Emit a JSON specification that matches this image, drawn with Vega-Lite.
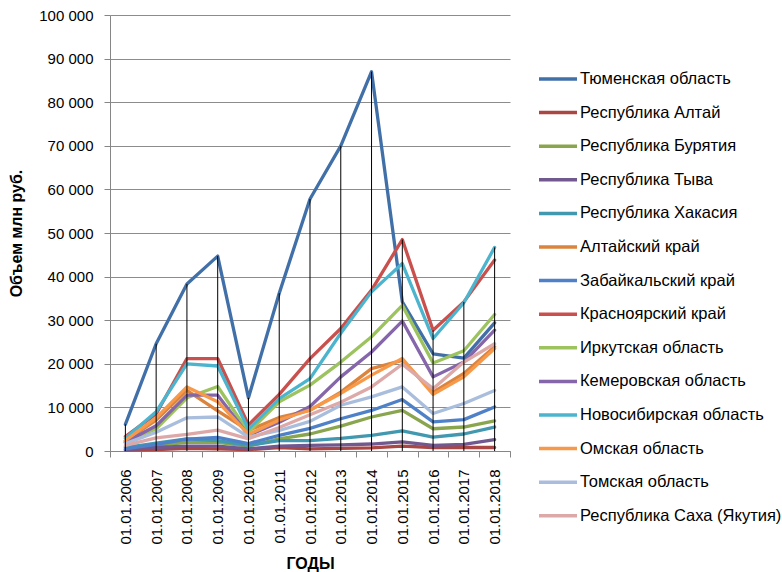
{
  "$schema": "https://vega.github.io/schema/vega-lite/v6.json",
  "autosize": {"type": "none"},
  "width": 400,
  "height": 436,
  "padding": {"left": 110, "top": 15, "right": 272, "bottom": 121},
  "background": "white",
  "config": {
    "locale": {"number": {"decimal": ",", "thousands": " ", "grouping": [3], "currency": ["", ""]}},
    "view": {"stroke": null},
    "font": "Liberation Sans",
    "axis": {"labelFont": "Liberation Sans", "titleFont": "Liberation Sans", "labelColor": "#000000", "titleColor": "#000000"}
  },
  "data": {"values": [
    {"d":"01.01.2006","r":"Тюменская область","v":6100},{"d":"01.01.2007","r":"Тюменская область","v":24600},{"d":"01.01.2008","r":"Тюменская область","v":38300},{"d":"01.01.2009","r":"Тюменская область","v":44700},{"d":"01.01.2010","r":"Тюменская область","v":12200},{"d":"01.01.2011","r":"Тюменская область","v":36200},{"d":"01.01.2012","r":"Тюменская область","v":57800},{"d":"01.01.2013","r":"Тюменская область","v":70000},{"d":"01.01.2014","r":"Тюменская область","v":87000},{"d":"01.01.2015","r":"Тюменская область","v":34200},{"d":"01.01.2016","r":"Тюменская область","v":22300},{"d":"01.01.2017","r":"Тюменская область","v":21300},{"d":"01.01.2018","r":"Тюменская область","v":29400},
    {"d":"01.01.2006","r":"Республика Алтай","v":200},{"d":"01.01.2007","r":"Республика Алтай","v":300},{"d":"01.01.2008","r":"Республика Алтай","v":600},{"d":"01.01.2009","r":"Республика Алтай","v":500},{"d":"01.01.2010","r":"Республика Алтай","v":300},{"d":"01.01.2011","r":"Республика Алтай","v":800},{"d":"01.01.2012","r":"Республика Алтай","v":500},{"d":"01.01.2013","r":"Республика Алтай","v":600},{"d":"01.01.2014","r":"Республика Алтай","v":700},{"d":"01.01.2015","r":"Республика Алтай","v":1100},{"d":"01.01.2016","r":"Республика Алтай","v":800},{"d":"01.01.2017","r":"Республика Алтай","v":800},{"d":"01.01.2018","r":"Республика Алтай","v":800},
    {"d":"01.01.2006","r":"Республика Бурятия","v":1000},{"d":"01.01.2007","r":"Республика Бурятия","v":1300},{"d":"01.01.2008","r":"Республика Бурятия","v":2000},{"d":"01.01.2009","r":"Республика Бурятия","v":2000},{"d":"01.01.2010","r":"Республика Бурятия","v":1100},{"d":"01.01.2011","r":"Республика Бурятия","v":2800},{"d":"01.01.2012","r":"Республика Бурятия","v":3900},{"d":"01.01.2013","r":"Республика Бурятия","v":5700},{"d":"01.01.2014","r":"Республика Бурятия","v":7800},{"d":"01.01.2015","r":"Республика Бурятия","v":9300},{"d":"01.01.2016","r":"Республика Бурятия","v":5100},{"d":"01.01.2017","r":"Республика Бурятия","v":5500},{"d":"01.01.2018","r":"Республика Бурятия","v":6900},
    {"d":"01.01.2006","r":"Республика Тыва","v":300},{"d":"01.01.2007","r":"Республика Тыва","v":800},{"d":"01.01.2008","r":"Республика Тыва","v":1100},{"d":"01.01.2009","r":"Республика Тыва","v":1100},{"d":"01.01.2010","r":"Республика Тыва","v":500},{"d":"01.01.2011","r":"Республика Тыва","v":1100},{"d":"01.01.2012","r":"Республика Тыва","v":1300},{"d":"01.01.2013","r":"Республика Тыва","v":1400},{"d":"01.01.2014","r":"Республика Тыва","v":1600},{"d":"01.01.2015","r":"Республика Тыва","v":2100},{"d":"01.01.2016","r":"Республика Тыва","v":1300},{"d":"01.01.2017","r":"Республика Тыва","v":1500},{"d":"01.01.2018","r":"Республика Тыва","v":2600},
    {"d":"01.01.2006","r":"Республика Хакасия","v":800},{"d":"01.01.2007","r":"Республика Хакасия","v":1800},{"d":"01.01.2008","r":"Республика Хакасия","v":2800},{"d":"01.01.2009","r":"Республика Хакасия","v":2400},{"d":"01.01.2010","r":"Республика Хакасия","v":1300},{"d":"01.01.2011","r":"Республика Хакасия","v":2400},{"d":"01.01.2012","r":"Республика Хакасия","v":2400},{"d":"01.01.2013","r":"Республика Хакасия","v":2900},{"d":"01.01.2014","r":"Республика Хакасия","v":3600},{"d":"01.01.2015","r":"Республика Хакасия","v":4600},{"d":"01.01.2016","r":"Республика Хакасия","v":3200},{"d":"01.01.2017","r":"Республика Хакасия","v":3900},{"d":"01.01.2018","r":"Республика Хакасия","v":5500},
    {"d":"01.01.2006","r":"Алтайский край","v":2300},{"d":"01.01.2007","r":"Алтайский край","v":7100},{"d":"01.01.2008","r":"Алтайский край","v":13900},{"d":"01.01.2009","r":"Алтайский край","v":9200},{"d":"01.01.2010","r":"Алтайский край","v":4700},{"d":"01.01.2011","r":"Алтайский край","v":7700},{"d":"01.01.2012","r":"Алтайский край","v":9300},{"d":"01.01.2013","r":"Алтайский край","v":13500},{"d":"01.01.2014","r":"Алтайский край","v":18900},{"d":"01.01.2015","r":"Алтайский край","v":20800},{"d":"01.01.2016","r":"Алтайский край","v":13500},{"d":"01.01.2017","r":"Алтайский край","v":17800},{"d":"01.01.2018","r":"Алтайский край","v":23900},
    {"d":"01.01.2006","r":"Забайкальский край","v":500},{"d":"01.01.2007","r":"Забайкальский край","v":1500},{"d":"01.01.2008","r":"Забайкальский край","v":2700},{"d":"01.01.2009","r":"Забайкальский край","v":3100},{"d":"01.01.2010","r":"Забайкальский край","v":1700},{"d":"01.01.2011","r":"Забайкальский край","v":3600},{"d":"01.01.2012","r":"Забайкальский край","v":5200},{"d":"01.01.2013","r":"Забайкальский край","v":7400},{"d":"01.01.2014","r":"Забайкальский край","v":9300},{"d":"01.01.2015","r":"Забайкальский край","v":11800},{"d":"01.01.2016","r":"Забайкальский край","v":6700},{"d":"01.01.2017","r":"Забайкальский край","v":7200},{"d":"01.01.2018","r":"Забайкальский край","v":10100},
    {"d":"01.01.2006","r":"Красноярский край","v":3300},{"d":"01.01.2007","r":"Красноярский край","v":8500},{"d":"01.01.2008","r":"Красноярский край","v":21200},{"d":"01.01.2009","r":"Красноярский край","v":21200},{"d":"01.01.2010","r":"Красноярский край","v":6000},{"d":"01.01.2011","r":"Красноярский край","v":13000},{"d":"01.01.2012","r":"Красноярский край","v":21200},{"d":"01.01.2013","r":"Красноярский край","v":28100},{"d":"01.01.2014","r":"Красноярский край","v":36900},{"d":"01.01.2015","r":"Красноярский край","v":48500},{"d":"01.01.2016","r":"Красноярский край","v":27700},{"d":"01.01.2017","r":"Красноярский край","v":34200},{"d":"01.01.2018","r":"Красноярский край","v":43800},
    {"d":"01.01.2006","r":"Иркутская область","v":2000},{"d":"01.01.2007","r":"Иркутская область","v":5100},{"d":"01.01.2008","r":"Иркутская область","v":12200},{"d":"01.01.2009","r":"Иркутская область","v":14800},{"d":"01.01.2010","r":"Иркутская область","v":4300},{"d":"01.01.2011","r":"Иркутская область","v":11300},{"d":"01.01.2012","r":"Иркутская область","v":15100},{"d":"01.01.2013","r":"Иркутская область","v":20400},{"d":"01.01.2014","r":"Иркутская область","v":26200},{"d":"01.01.2015","r":"Иркутская область","v":33400},{"d":"01.01.2016","r":"Иркутская область","v":20200},{"d":"01.01.2017","r":"Иркутская область","v":23000},{"d":"01.01.2018","r":"Иркутская область","v":31300},
    {"d":"01.01.2006","r":"Кемеровская область","v":2000},{"d":"01.01.2007","r":"Кемеровская область","v":5800},{"d":"01.01.2008","r":"Кемеровская область","v":12800},{"d":"01.01.2009","r":"Кемеровская область","v":12800},{"d":"01.01.2010","r":"Кемеровская область","v":3600},{"d":"01.01.2011","r":"Кемеровская область","v":6600},{"d":"01.01.2012","r":"Кемеровская область","v":10200},{"d":"01.01.2013","r":"Кемеровская область","v":17000},{"d":"01.01.2014","r":"Кемеровская область","v":22700},{"d":"01.01.2015","r":"Кемеровская область","v":29800},{"d":"01.01.2016","r":"Кемеровская область","v":17000},{"d":"01.01.2017","r":"Кемеровская область","v":20400},{"d":"01.01.2018","r":"Кемеровская область","v":27700},
    {"d":"01.01.2006","r":"Новосибирская область","v":2900},{"d":"01.01.2007","r":"Новосибирская область","v":9000},{"d":"01.01.2008","r":"Новосибирская область","v":20000},{"d":"01.01.2009","r":"Новосибирская область","v":19500},{"d":"01.01.2010","r":"Новосибирская область","v":5000},{"d":"01.01.2011","r":"Новосибирская область","v":12000},{"d":"01.01.2012","r":"Новосибирская область","v":16600},{"d":"01.01.2013","r":"Новосибирская область","v":27000},{"d":"01.01.2014","r":"Новосибирская область","v":36500},{"d":"01.01.2015","r":"Новосибирская область","v":43000},{"d":"01.01.2016","r":"Новосибирская область","v":25800},{"d":"01.01.2017","r":"Новосибирская область","v":34000},{"d":"01.01.2018","r":"Новосибирская область","v":46700},
    {"d":"01.01.2006","r":"Омская область","v":2400},{"d":"01.01.2007","r":"Омская область","v":7600},{"d":"01.01.2008","r":"Омская область","v":14700},{"d":"01.01.2009","r":"Омская область","v":11300},{"d":"01.01.2010","r":"Омская область","v":3800},{"d":"01.01.2011","r":"Омская область","v":7100},{"d":"01.01.2012","r":"Омская область","v":9400},{"d":"01.01.2013","r":"Омская область","v":13200},{"d":"01.01.2014","r":"Омская область","v":17400},{"d":"01.01.2015","r":"Омская область","v":21200},{"d":"01.01.2016","r":"Омская область","v":13000},{"d":"01.01.2017","r":"Омская область","v":17000},{"d":"01.01.2018","r":"Омская область","v":23500},
    {"d":"01.01.2006","r":"Томская область","v":1700},{"d":"01.01.2007","r":"Томская область","v":4300},{"d":"01.01.2008","r":"Томская область","v":7600},{"d":"01.01.2009","r":"Томская область","v":7800},{"d":"01.01.2010","r":"Томская область","v":3200},{"d":"01.01.2011","r":"Томская область","v":4700},{"d":"01.01.2012","r":"Томская область","v":6800},{"d":"01.01.2013","r":"Томская область","v":10500},{"d":"01.01.2014","r":"Томская область","v":12400},{"d":"01.01.2015","r":"Томская область","v":14700},{"d":"01.01.2016","r":"Томская область","v":8600},{"d":"01.01.2017","r":"Томская область","v":10900},{"d":"01.01.2018","r":"Томская область","v":13900},
    {"d":"01.01.2006","r":"Республика Саха (Якутия)","v":1300},{"d":"01.01.2007","r":"Республика Саха (Якутия)","v":3000},{"d":"01.01.2008","r":"Республика Саха (Якутия)","v":3800},{"d":"01.01.2009","r":"Республика Саха (Якутия)","v":4800},{"d":"01.01.2010","r":"Республика Саха (Якутия)","v":2800},{"d":"01.01.2011","r":"Республика Саха (Якутия)","v":5400},{"d":"01.01.2012","r":"Республика Саха (Якутия)","v":8300},{"d":"01.01.2013","r":"Республика Саха (Якутия)","v":11200},{"d":"01.01.2014","r":"Республика Саха (Якутия)","v":14700},{"d":"01.01.2015","r":"Республика Саха (Якутия)","v":19900},{"d":"01.01.2016","r":"Республика Саха (Якутия)","v":14300},{"d":"01.01.2017","r":"Республика Саха (Якутия)","v":20400},{"d":"01.01.2018","r":"Республика Саха (Якутия)","v":24600}
  ]},
  "encoding": {
    "x": {
      "field": "d", "type": "ordinal", "sort": null,
      "scale": {"type": "band", "paddingInner": 0, "paddingOuter": 0},
      "bandPosition": 0.5,
      "axis": {
        "title": "ГОДЫ", "titleFontSize": 16, "titleFontWeight": "bold", "titlePadding": 11,
        "labelAngle": -90, "labelFontSize": 15, "labelPadding": 12,
        "tickBand": "extent", "tickSize": 6, "tickColor": "#868686", "domainColor": "#868686",
        "grid": false
      }
    },
    "y": {
      "field": "v", "type": "quantitative",
      "scale": {"domain": [0, 100000], "nice": false},
      "axis": {
        "title": "Объем млн руб.", "titleFontSize": 16, "titleFontWeight": "bold", "titlePadding": 14,
        "values": [0,10000,20000,30000,40000,50000,60000,70000,80000,90000,100000],
        "format": ",d", "labelFontSize": 15, "labelPadding": 11, "tickSize": 6,
        "tickColor": "#868686", "domainColor": "#868686",
        "grid": true, "gridColor": "#8c8c8c", "gridWidth": 1
      }
    }
  },
  "layer": [
    {
      "mark": {"type": "line", "strokeWidth": 3.3, "strokeCap": "round", "strokeJoin": "round"},
      "encoding": {
        "color": {
          "field": "r", "type": "nominal",
          "scale": {
            "domain": ["Тюменская область","Республика Алтай","Республика Бурятия","Республика Тыва","Республика Хакасия","Алтайский край","Забайкальский край","Красноярский край","Иркутская область","Кемеровская область","Новосибирская область","Омская область","Томская область","Республика Саха (Якутия)"],
            "range": ["#4170A8","#AA4643","#89A54E","#71588F","#4198AF","#DB843D","#4F81C8","#C9504D","#9DC35E","#8566AB","#4DB4CE","#F8994A","#A9BEDD","#DDA9A8"]
          },
          "legend": {
            "title": null, "orient": "none", "legendX": 427, "legendY": 43,
            "symbolType": "stroke", "symbolSize": 1444, "symbolStrokeWidth": 3.5,
            "labelFontSize": 16.5, "labelFont": "Liberation Sans", "labelColor": "#000000",
            "rowPadding": 3.6, "labelOffset": 1, "labelLimit": 300
          }
        }
      }
    },
    {
      "mark": {"type": "rule", "color": "#000000", "strokeWidth": 1},
      "encoding": {
        "y": {"aggregate": "max", "field": "v", "type": "quantitative"},
        "y2": {"datum": 0}
      }
    }
  ]
}
